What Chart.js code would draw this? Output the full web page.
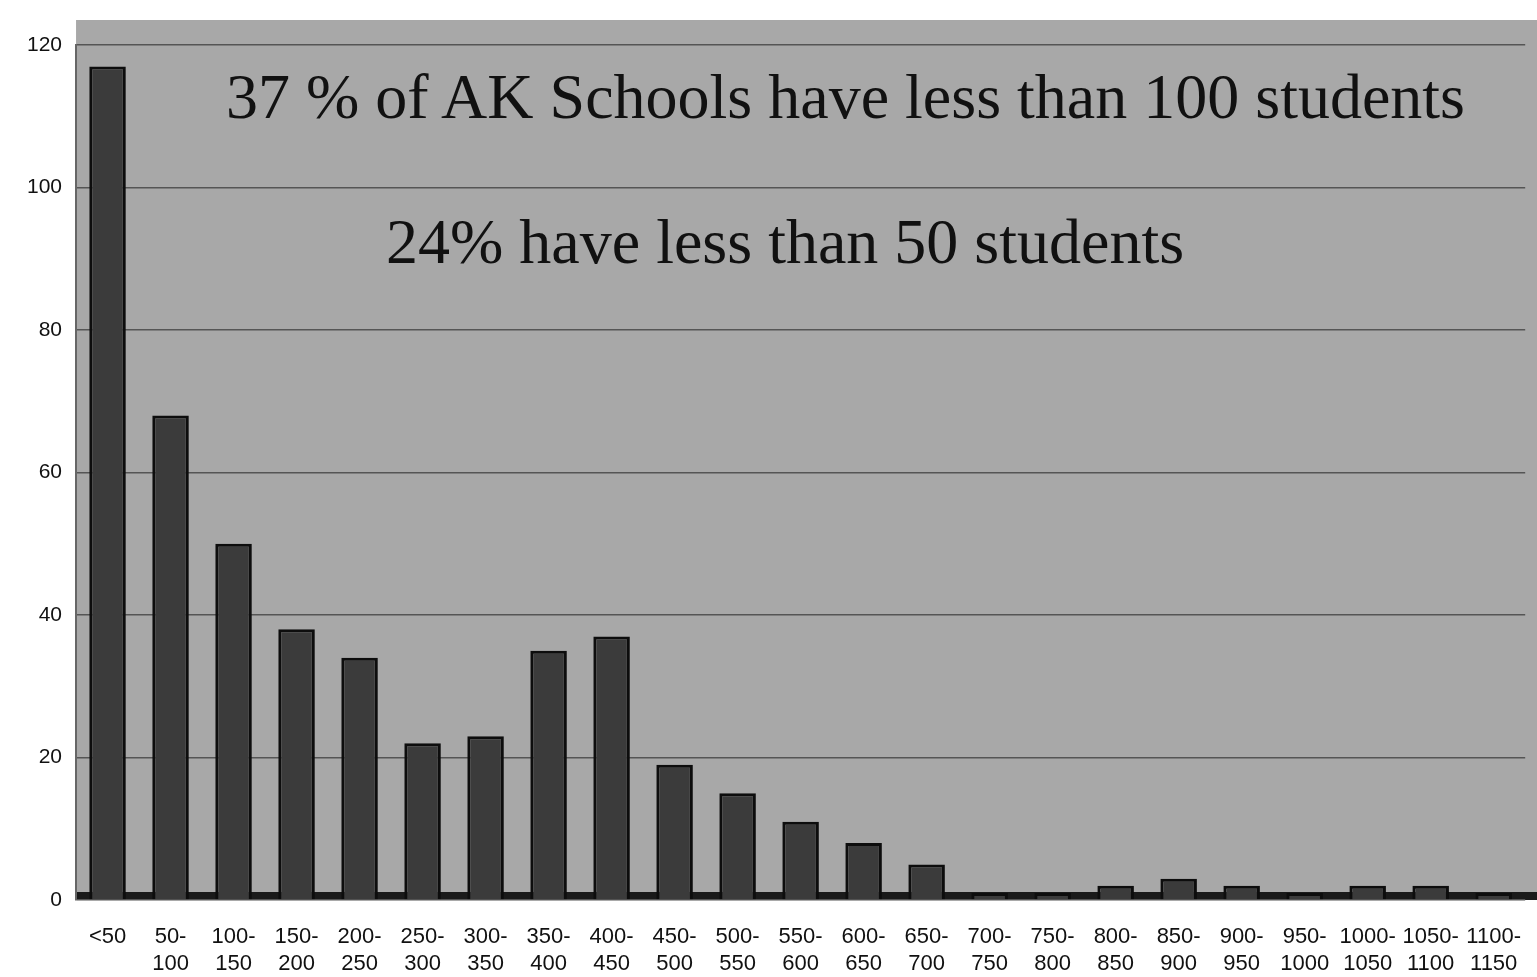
<!DOCTYPE html>
<html>
<head>
<meta charset="utf-8">
<script src="https://cdn.jsdelivr.net/npm/chart.js@4"></script>
<style>
  html, body { margin: 0; padding: 0; background: #fff; }
  #wrap { position: relative; width: 1537px; height: 977px; }
  .note { position: absolute; font-family: "Liberation Serif", "DejaVu Serif", serif; color: #111; white-space: nowrap; }
</style>
</head>
<body>
<div id="wrap">
  <canvas id="schoolChart" width="1537" height="977"></canvas>
  <div class="note" style="left:226px; top:60px; font-size:64px;">37 % of AK Schools have less than 100 students</div>
  <div class="note" style="left:386px; top:205px; font-size:64px;">24% have less than 50 students</div>
</div>
<script>
const sizeRanges = [
  '<50', ['50-', '100'], ['100-', '150'], ['150-', '200'], ['200-', '250'], ['250-', '300'],
  ['300-', '350'], ['350-', '400'], ['400-', '450'], ['450-', '500'], ['500-', '550'],
  ['550-', '600'], ['600-', '650'], ['650-', '700'], ['700-', '750'], ['750-', '800'],
  ['800-', '850'], ['850-', '900'], ['900-', '950'], ['950-', '1000'], ['1000-', '1050'],
  ['1050-', '1100'], ['1100-', '1150']
];
const schoolCounts = [117, 68, 50, 38, 34, 22, 23, 35, 37, 19, 15, 11, 8, 5, 1, 1, 2, 3, 2, 1, 2, 2, 1];
const yTicks = [0, 20, 40, 60, 80, 100, 120];

// grey plot background like the photocopied chart wall
const wallBg = {
  id: 'wallBg',
  beforeDraw(chart) {
    const { ctx, chartArea: a } = chart;
    ctx.save();
    ctx.fillStyle = '#a8a8a8';
    ctx.fillRect(a.left, a.top - 25, a.right - a.left + 18, a.bottom - a.top + 25);
    ctx.fillStyle = '#1a1a1a';
    ctx.fillRect(a.left, a.bottom - 8, a.right - a.left + 18, 8);
    ctx.restore();
  }
};

const schoolChart = new Chart(document.getElementById('schoolChart'), {
  type: 'bar',
  data: {
    labels: sizeRanges,
    datasets: [{
      label: 'Schools',
      data: schoolCounts,
      backgroundColor: '#3b3b3b',
      borderColor: '#0d0d0d',
      borderWidth: 3,
      barPercentage: 0.58,
      categoryPercentage: 1
    }]
  },
  options: {
    responsive: false,
    animation: false,
    layout: { padding: { left: 13, right: 0, top: 45, bottom: 2 } },
    plugins: {
      legend: { display: false },
      tooltip: { enabled: false }
    },
    scales: {
      x: {
        afterFit(scale) { scale.height = 75; },
        grid: { display: false },
        border: { display: false },
        ticks: {
          color: '#111',
          maxRotation: 0,
          autoSkip: false,
          font: { family: 'Liberation Sans, Arial, sans-serif', size: 22 },
          padding: 16
        }
      },
      y: {
        min: 0,
        max: 120,
        afterBuildTicks: (axis) => { axis.ticks = yTicks.map(v => ({ value: v })); },
        grid: { color: '#555', lineWidth: 1.5, drawTicks: false },
        border: { color: '#666', width: 2 },
        ticks: {
          color: '#111',
          padding: 14,
          font: { family: 'Liberation Sans, Arial, sans-serif', size: 21 }
        }
      }
    }
  },
  plugins: [wallBg]
});
</script>
</body>
</html>
